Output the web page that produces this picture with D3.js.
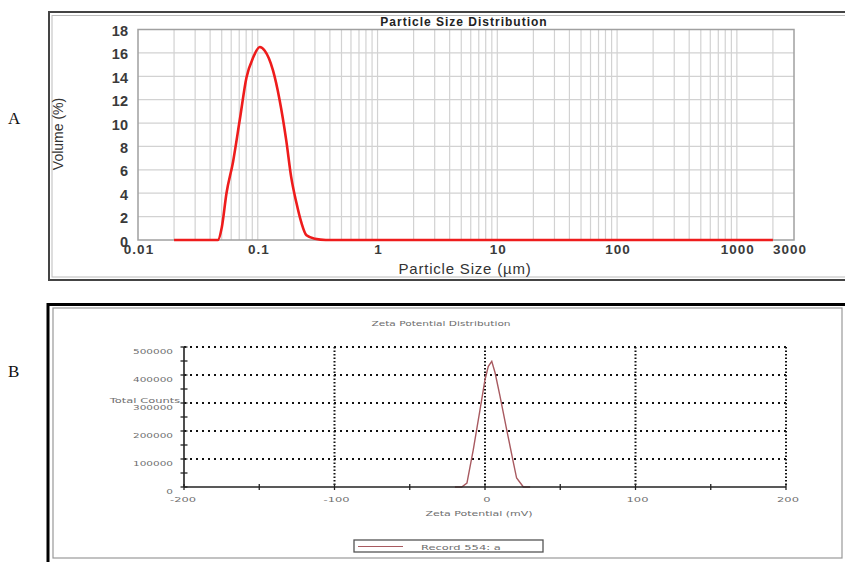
<!DOCTYPE html>
<html>
<head>
<meta charset="utf-8">
<script src="https://cdn.jsdelivr.net/npm/d3@7"></script>
<style>
  body { margin: 0; background: #fff; }
  svg { display: block; }
</style>
</head>
<body>
<svg id="chart" width="845" height="562"></svg>
<script>
// A: particle size distribution, volume (%) vs size (um)
const psdSize   = [0.02, 0.0464, 0.0501, 0.0548, 0.0622, 0.0708, 0.0805, 0.0915, 0.104, 0.114, 0.134, 0.152, 0.173, 0.19, 0.21, 0.231, 0.255, 0.30, 0.37, 2000];
const psdVolume = [0, 0, 1.1, 4.0, 6.7, 10.3, 13.9, 15.6, 16.5, 16.2, 14.5, 12.0, 8.5, 5.4, 3.2, 1.5, 0.4, 0.1, 0, 0];
const psdYTicks = [0, 2, 4, 6, 8, 10, 12, 14, 16, 18];
const psdXLabels = [0.01, 0.1, 1, 10, 100, 1000, 3000];

// B: zeta potential distribution, total counts vs mV
const zetaMv     = [-20, -15.5, -12, -7.8, -3.3, 0, 2.2, 4.5, 6.7, 10, 14.4, 18.9, 21, 25.5, 30];
const zetaCounts = [0, 0, 14000, 133000, 276000, 383000, 431000, 449000, 408000, 324000, 205000, 86000, 32000, 0, 0];
const zetaYTicks = [0, 100000, 200000, 300000, 400000, 500000];
const zetaYMinor = [50000, 150000, 250000, 350000, 450000];
const zetaXTicks = [-200, -100, 0, 100, 200];
const zetaXMinor = [-150, -50, 50, 150];

const svg = d3.select('#chart');

// ---------- panel A ----------
const xA = d3.scaleLog().domain([0.01, 3000]).range([138, 794]);
const yA = d3.scaleLinear().domain([0, 18]).range([240, 29.5]);

// frame (double line)
svg.append('rect').attr('x', 49).attr('y', 12).attr('width', 820).attr('height', 268)
  .attr('fill', 'none').attr('stroke', '#444').attr('stroke-width', 2);
svg.append('rect').attr('x', 52).attr('y', 15.5).attr('width', 820).attr('height', 261.5)
  .attr('fill', 'none').attr('stroke', '#bbb').attr('stroke-width', 1);

const gA = svg.append('g');
// vertical log grid
gA.selectAll('line.vg').data(xA.ticks().filter(v => v > 0.01 && v < 3000)).enter().append('line')
  .attr('class', 'vg')
  .attr('x1', d => xA(d)).attr('x2', d => xA(d))
  .attr('y1', yA(18)).attr('y2', yA(0))
  .attr('stroke', '#d2d2d2').attr('stroke-width', 1.2);
// horizontal grid
gA.selectAll('line.hg').data(psdYTicks.filter(v => v > 0 && v < 18)).enter().append('line')
  .attr('class', 'hg')
  .attr('x1', xA(0.01)).attr('x2', xA(3000))
  .attr('y1', d => yA(d)).attr('y2', d => yA(d))
  .attr('stroke', '#d2d2d2').attr('stroke-width', 1.2);
// plot frame
gA.append('rect')
  .attr('x', xA(0.01)).attr('y', yA(18))
  .attr('width', xA(3000) - xA(0.01)).attr('height', yA(0) - yA(18))
  .attr('fill', 'none').attr('stroke', '#a0a0a0').attr('stroke-width', 1.5);

// tick labels
gA.selectAll('text.yl').data(psdYTicks).enter().append('text')
  .attr('class', 'yl')
  .attr('x', 128).attr('y', d => yA(d) + 6.5)
  .attr('text-anchor', 'end')
  .style('font', 'bold 14.5px "Liberation Sans", Arial, sans-serif')
  .attr('fill', '#3a3a3a')
  .text(d => d);
gA.selectAll('text.xl').data(psdXLabels).enter().append('text')
  .attr('class', 'xl')
  .attr('x', d => xA(d) + (d === 3000 ? -4 : 1)).attr('y', 254)
  .attr('text-anchor', 'middle')
  .style('font', 'bold 13.5px "Liberation Sans", Arial, sans-serif')
  .style('letter-spacing', '1px')
  .attr('fill', '#3a3a3a')
  .text(d => d);

// titles
gA.append('text').attr('x', 464).attr('y', 26)
  .attr('text-anchor', 'middle')
  .style('font', 'bold 12px "Liberation Sans", Arial, sans-serif')
  .style('letter-spacing', '1px')
  .attr('fill', '#222')
  .text('Particle Size Distribution');
gA.append('text').attr('x', 465).attr('y', 274)
  .attr('text-anchor', 'middle')
  .style('font', '15px "Liberation Sans", Arial, sans-serif')
  .style('letter-spacing', '0.8px')
  .attr('fill', '#333')
  .text('Particle Size (µm)');
gA.append('text')
  .attr('transform', 'translate(63,134) rotate(-90)')
  .attr('text-anchor', 'middle')
  .style('font', '14px "Liberation Sans", Arial, sans-serif')
  .attr('fill', '#333')
  .text('Volume (%)');

// curve
const lineA = d3.line().x((d, i) => xA(psdSize[i])).y(d => yA(d)).curve(d3.curveMonotoneX);
gA.append('path').datum(psdVolume)
  .attr('d', lineA)
  .attr('fill', 'none').attr('stroke', '#ee1c1c').attr('stroke-width', 2.6)
  .attr('stroke-linejoin', 'round');

// ---------- panel B ----------
const xB = d3.scaleLinear().domain([-200, 200]).range([184, 786]);
const yB = d3.scaleLinear().domain([0, 500000]).range([487, 347]);

svg.append('rect').attr('x', 48).attr('y', 304.5).attr('width', 820).attr('height', 300)
  .attr('fill', 'none').attr('stroke', '#000').attr('stroke-width', 3);
svg.append('rect').attr('x', 53).attr('y', 308).attr('width', 789).attr('height', 250)
  .attr('fill', 'none').attr('stroke', '#999').attr('stroke-width', 1.2);

const gB = svg.append('g');

// squashed small text like the instrument print-out
function smallText(x, y, str, anchor, size) {
  return gB.append('text')
    .attr('transform', `translate(${x},${y}) scale(1,0.62)`)
    .attr('text-anchor', anchor)
    .style('font', `${size}px "DejaVu Sans", sans-serif`)
    .attr('fill', '#6e6e6e')
    .text(str);
}

// dotted grid
gB.selectAll('line.hg').data(zetaYTicks.filter(v => v > 0)).enter().append('line')
  .attr('class', 'hg')
  .attr('x1', xB(-200)).attr('x2', xB(200))
  .attr('y1', d => yB(d)).attr('y2', d => yB(d))
  .attr('stroke', '#111').attr('stroke-width', 2).attr('stroke-dasharray', '2,4');
gB.selectAll('line.vg').data(zetaXTicks.filter(v => v > -200)).enter().append('line')
  .attr('class', 'vg')
  .attr('x1', d => xB(d)).attr('x2', d => xB(d))
  .attr('y1', yB(500000)).attr('y2', yB(0))
  .attr('stroke', '#111').attr('stroke-width', 2).attr('stroke-dasharray', '1.6,1.9');

// curve
const lineB = d3.line().x((d, i) => xB(zetaMv[i])).y(d => yB(d));
gB.append('path').datum(zetaCounts)
  .attr('d', lineB)
  .attr('fill', 'none').attr('stroke', '#a85a60').attr('stroke-width', 1.4);

// axes
gB.append('line').attr('x1', xB(-200)).attr('x2', xB(-200)).attr('y1', yB(500000)).attr('y2', yB(0))
  .attr('stroke', '#222').attr('stroke-width', 1.6);
gB.append('line').attr('x1', xB(-200)).attr('x2', xB(200)).attr('y1', yB(0)).attr('y2', yB(0))
  .attr('stroke', '#222').attr('stroke-width', 1.6);
gB.selectAll('line.yt').data(zetaYTicks.concat(zetaYMinor)).enter().append('line')
  .attr('class', 'yt')
  .attr('x1', xB(-200) - 3.5).attr('x2', xB(-200) + 3.5)
  .attr('y1', d => yB(d)).attr('y2', d => yB(d))
  .attr('stroke', '#222').attr('stroke-width', 1.3);
gB.selectAll('line.xt').data(zetaXTicks.concat(zetaXMinor)).enter().append('line')
  .attr('class', 'xt')
  .attr('x1', d => xB(d)).attr('x2', d => xB(d))
  .attr('y1', yB(0) - 3).attr('y2', yB(0) + 3)
  .attr('stroke', '#222').attr('stroke-width', 1.3);

// tick labels
zetaYTicks.forEach(v => smallText(173, yB(v) + 6.5, v, 'end', 10.5));
zetaXTicks.forEach(v => smallText(xB(v) + (v === -200 ? -1 : 2), 502, v, 'middle', 11.5));

smallText(145, 403, 'Total Counts', 'middle', 11.5);
smallText(441, 326, 'Zeta Potential Distribution', 'middle', 10.6);
smallText(479, 516, 'Zeta Potential (mV)', 'middle', 11);

// legend
gB.append('rect').attr('x', 354).attr('y', 540).attr('width', 189).attr('height', 12)
  .attr('fill', '#fff').attr('stroke', '#555').attr('stroke-width', 1.3);
gB.append('line').attr('x1', 358).attr('x2', 403).attr('y1', 546.5).attr('y2', 546.5)
  .attr('stroke', '#a85a60').attr('stroke-width', 1.2);
smallText(421, 549.5, 'Record 554: a', 'start', 11.5);

// panel letters
svg.append('text').attr('x', 8).attr('y', 124)
  .style('font', '17px "Liberation Serif", "Times New Roman", serif')
  .attr('fill', '#111').text('A');
svg.append('text').attr('x', 8).attr('y', 377)
  .style('font', '17px "Liberation Serif", "Times New Roman", serif')
  .attr('fill', '#111').text('B');
</script>
</body>
</html>
